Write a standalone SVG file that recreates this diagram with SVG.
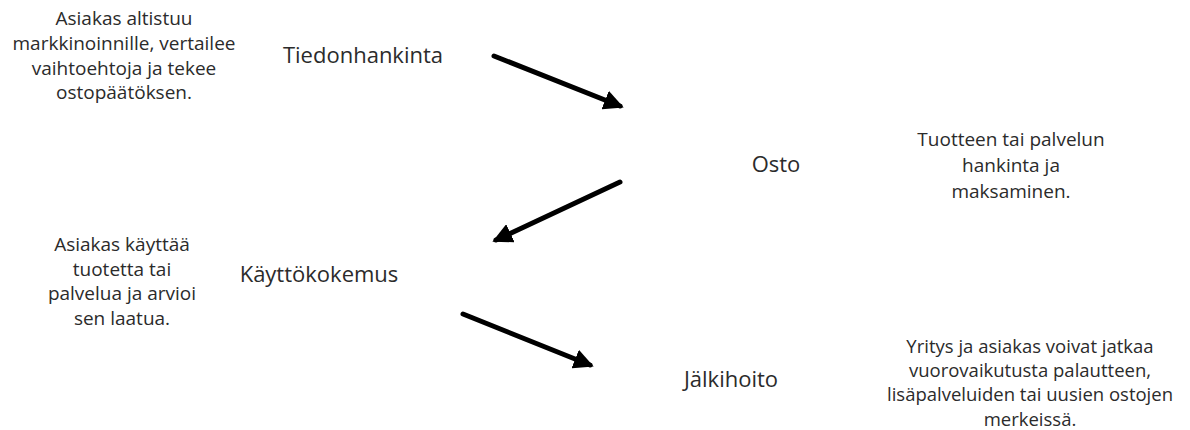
<svg xmlns="http://www.w3.org/2000/svg" width="1190" height="430" viewBox="0 0 1190 430">
  <style>
    text { font-family: "Open Sans", "Noto Sans", "Liberation Sans", sans-serif; fill: #2b2b2b; text-anchor: middle; }
    .desc { font-size: 19px; }
    .desc.tight { font-size: 18.5px; }
    .label { font-size: 22px; }
    .conn { stroke: #000; stroke-width: 5; fill: none; stroke-linecap: round; }
  </style>
  <defs>
    <marker id="head" viewBox="0 0 10 10" refX="8" refY="5" markerWidth="4" markerHeight="4" orient="auto" markerUnits="strokeWidth">
      <path d="M0,0 L10,5 L0,10 z" fill="#000"/>
    </marker>
  </defs>
  <rect width="1190" height="430" fill="#fff"/>

  <!-- arrows between the stages -->
  <g id="connectors">
    <line class="conn" x1="494" y1="56" x2="620" y2="106" marker-end="url(#head)"/>
    <line class="conn" x1="620" y1="182" x2="496" y2="240" marker-end="url(#head)"/>
    <line class="conn" x1="463" y1="314" x2="590" y2="365" marker-end="url(#head)"/>
  </g>

  <g id="tiedonhankinta">
    <text class="label" x="363" y="63">Tiedonhankinta</text>
    <text class="desc" x="124" y="25">Asiakas altistuu</text>
    <text class="desc" x="124" y="50">markkinoinnille, vertailee</text>
    <text class="desc" x="124" y="75">vaihtoehtoja ja tekee</text>
    <text class="desc" x="124" y="99">ostopäätöksen.</text>
  </g>

  <g id="osto">
    <text class="label" x="776" y="172">Osto</text>
    <text class="desc" x="1011" y="146">Tuotteen tai palvelun</text>
    <text class="desc" x="1011" y="172">hankinta ja</text>
    <text class="desc" x="1011" y="198">maksaminen.</text>
  </g>

  <g id="kayttokokemus">
    <text class="label" x="319" y="282">Käyttökokemus</text>
    <text class="desc" x="122" y="251">Asiakas käyttää</text>
    <text class="desc" x="122" y="276">tuotetta tai</text>
    <text class="desc" x="122" y="300">palvelua ja arvioi</text>
    <text class="desc" x="122" y="325">sen laatua.</text>
  </g>

  <g id="jalkihoito">
    <text class="label" x="731" y="387">Jälkihoito</text>
    <text class="desc tight" x="1030" y="353">Yritys ja asiakas voivat jatkaa</text>
    <text class="desc tight" x="1030" y="377">vuorovaikutusta palautteen,</text>
    <text class="desc tight" x="1030" y="401">lisäpalveluiden tai uusien ostojen</text>
    <text class="desc tight" x="1030" y="426">merkeissä.</text>
  </g>
</svg>
